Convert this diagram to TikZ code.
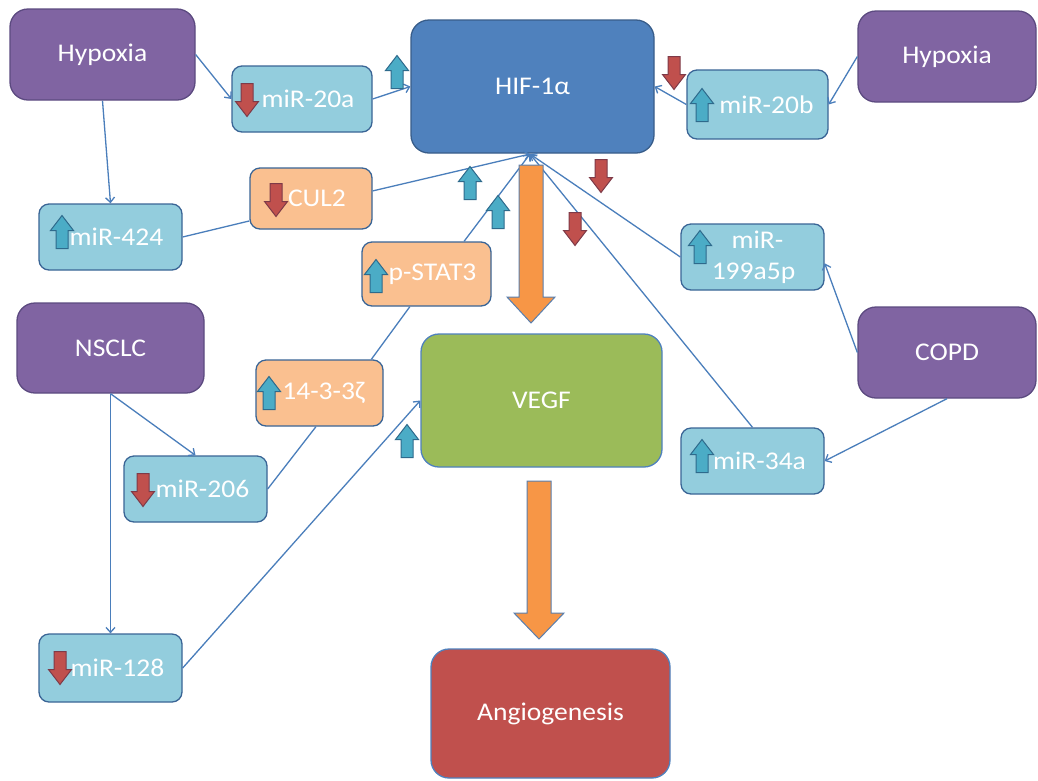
\documentclass[tikz,border=0pt]{standalone}
\usepackage{fontspec}
\setmainfont{Carlito}[FakeStretch=1.08]
\usetikzlibrary{arrows.meta,calc}

\definecolor{purplebox}{HTML}{8064A2}
\definecolor{purpleedge}{HTML}{5C4A80}
\definecolor{mirfill}{HTML}{93CDDD}
\definecolor{miredge}{HTML}{3A6596}
\definecolor{protfill}{HTML}{FAC090}
\definecolor{hiffill}{HTML}{4F81BD}
\definecolor{hifedge}{HTML}{385D8A}
\definecolor{vegffill}{HTML}{9BBB59}
\definecolor{angiofill}{HTML}{C0504D}
\definecolor{linkblue}{HTML}{4A7EBB}
\definecolor{upfill}{HTML}{4BACC6}
\definecolor{upedge}{HTML}{2E6A8C}
\definecolor{downfill}{HTML}{C0504D}
\definecolor{downedge}{HTML}{7E3A48}
\definecolor{blockfill}{HTML}{F79646}
\definecolor{blockedge}{HTML}{5A7FAE}

\tikzset{
  box/.style={rectangle, inner sep=0pt, text=white, line width=1.3pt,
    font=\fontsize{25.5}{31}\selectfont, align=center},
  bigbox/.style={box, rounded corners=18pt},
  smallbox/.style={box, rounded corners=10pt},
  disease/.style={bigbox, fill=purplebox, draw=purpleedge,
    minimum width=178pt, minimum height=91pt},
  mirna/.style={smallbox, fill=mirfill, draw=miredge,
    minimum width=143pt, minimum height=66pt},
  protein/.style={smallbox, fill=protfill, draw=miredge},
  link/.style={draw=linkblue, line width=1.3pt},
  linkto/.style={link, -{Straight Barb[length=5pt,width=9pt]}},
  blockarrow/.style={fill=blockfill, draw=blockedge, line width=1pt},
  upind/.pic={\filldraw[fill=upfill, draw=upedge, line width=1pt]
    (0,-16.5) -- (11.5,-1.5) -- (6,-1.5) -- (6,16.5) -- (-6,16.5)
    -- (-6,-1.5) -- (-11.5,-1.5) -- cycle;},
  downind/.pic={\filldraw[fill=downfill, draw=downedge, line width=1pt]
    (0,16.5) -- (11.5,1.5) -- (6,1.5) -- (6,-16.5) -- (-6,-16.5)
    -- (-6,1.5) -- (-11.5,1.5) -- cycle;},
}

\begin{document}
\begin{tikzpicture}[x=1pt,y=-1pt]
\useasboundingbox[fill=white] (0,0) rectangle (1038,780);

% disease / stimulus boxes
\node[disease, minimum width=185pt] (hypL) at (102.5,54.5) {Hypoxia};
\node[disease] (hypR) at (947,56.5) {Hypoxia};
\node[disease, minimum width=187pt, minimum height=90pt] (nsclc) at (110.5,348) {NSCLC};
\node[disease] (copd) at (947,352.5) {COPD};

% central cascade
\node[bigbox, fill=hiffill, draw=hifedge, minimum width=243pt, minimum height=133pt]
  (hif) at (532.5,86.5) {HIF-1α};
\node[bigbox, fill=vegffill, draw=hiffill, minimum width=241pt, minimum height=133pt]
  (vegf) at (541.5,400.5) {VEGF};
\node[bigbox, fill=angiofill, draw=hiffill, minimum width=239pt, minimum height=129pt]
  (angio) at (550.5,713.5) {Angiogenesis};

% microRNAs
\node[mirna, minimum width=140pt] (mir20a) at (302,99) {\hspace*{12pt}miR-20a};
\node[mirna, minimum width=141pt, minimum height=69pt] (mir20b) at (757.5,104.5) {\hspace*{18pt}miR-20b};
\node[mirna] (mir424) at (110.5,237) {\hspace*{12pt}miR-424};
\node[mirna] (mir199) at (752.5,257) {\hspace*{10pt}miR-\\\hspace*{2pt}199a5p};
\node[mirna] (mir34a) at (752.5,461) {\hspace*{14pt}miR-34a};
\node[mirna] (mir206) at (195.5,489) {\hspace*{14pt}miR-206};
\node[mirna, minimum height=68pt] (mir128) at (110.5,668) {\hspace*{14pt}miR-128};

% proteins
\node[protein, minimum width=122pt, minimum height=61pt] (cul2) at (311,198.5) {\hspace*{12pt}CUL2};
\node[protein, minimum width=129pt, minimum height=64pt] (pstat3) at (426.5,274) {\hspace*{12pt}p-STAT3};
\node[protein, minimum width=127pt, minimum height=66pt] (p1433) at (319.5,393) {\hspace*{8pt}14-3-3ζ};

% point where the regulators meet HIF-1α
\coordinate (hifin) at (530,154);

% connectors
\draw[linkto] (hypL.east) -- (mir20a.west);
\draw[linkto] (hypL.south) -- (mir424.north);
\draw[linkto] (mir20a.east) -- (hif.west);
\draw[linkto] (hypR.west) -- (mir20b.east);
\draw[linkto] (mir20b.west) -- (hif.east);
\draw[link] (mir424.east) -- (cul2.200);
\draw[linkto] (cul2.7) -- (hifin);
\draw[linkto] (pstat3.41) -- (hifin);
\draw[link] (p1433.33) -- (pstat3.243);
\draw[link] (mir206.east) -- (p1433.264);
\draw[linkto] (nsclc.south) -- (mir206.north);
\draw[linkto] (nsclc.south) -- (mir128.north);
\draw[linkto] (mir128.east) -- (vegf.west);
\draw[linkto] (mir199.west) -- (hifin);
\draw[linkto] (mir34a.north) -- (hifin);
\draw[linkto] (copd.west) -- (mir199.-5);
\draw[linkto] (copd.south) -- (mir34a.east);

% block arrows HIF-1α -> VEGF -> Angiogenesis
\draw[blockarrow] (519,165) -- (543,165) -- (543,297) -- (555,297) -- (531,323)
  -- (507,297) -- (519,297) -- cycle;
\draw[blockarrow] (527,481) -- (551,481) -- (551,613) -- (564,613) -- (539,639)
  -- (514,613) -- (527,613) -- cycle;

% regulation markers inside boxes
\pic (i20a) at (247,100) {downind};
\pic (i424) at (62,232) {upind};
\pic (icul2) at (276,200) {downind};
\pic (istat) at (376,276) {upind};
\pic (i20b) at (702,105) {upind};
\pic (i199) at (700,247) {upind};
\pic (i1433) at (269,393) {upind};
\pic (i206) at (143,490) {downind};
\pic (i128) at (60,668) {downind};
\pic (i34a) at (702,456) {upind};

% regulation markers on the connectors
\pic (m1) at (397,72) {upind};
\pic (m2) at (674,73) {downind};
\pic (m3) at (470,183) {upind};
\pic (m4) at (498,212) {upind};
\pic (m5) at (601,176) {downind};
\pic (m6) at (575,229) {downind};
\pic (m7) at (407,441) {upind};
\end{tikzpicture}
\end{document}
